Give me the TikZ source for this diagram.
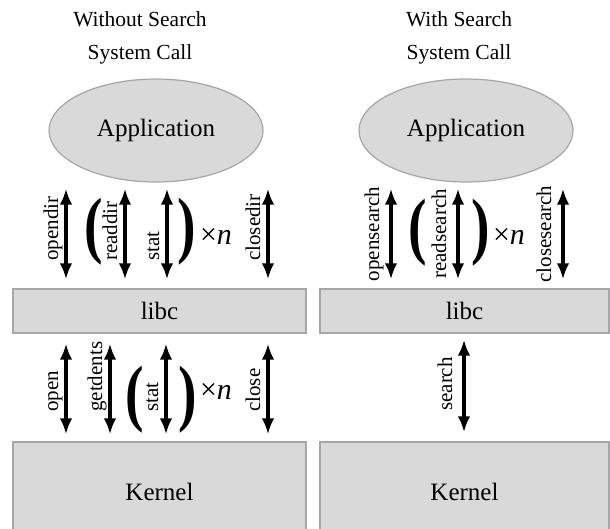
\documentclass[tikz,border=0pt]{standalone}
\usepackage{fontspec}
\setmainfont{Liberation Serif}
\usetikzlibrary{shapes.geometric, arrows.meta}
\definecolor{boxfill}{RGB}{217,217,217}
\definecolor{boxline}{RGB}{166,166,166}

\begin{document}
\begin{tikzpicture}[x=1pt, y=-1pt, >={Latex[length=16pt, width=12.5pt]},
  layer/.style={draw=boxline, fill=boxfill, line width=1.2pt, inner sep=0pt,
    font=\fontsize{25}{25}\selectfont},
  call/.style={<->, line width=3.3pt},
  lbl/.style={rotate=90, inner sep=0pt, font=\fontsize{21}{21}\selectfont},
  paren/.style={inner sep=0pt, xscale=.75, font=\fontsize{74}{74}\selectfont\bfseries},
  times/.style={inner sep=0pt, font=\fontsize{30}{30}\selectfont},
  title/.style={align=center, font=\fontsize{21.5}{33}\selectfont}]
  \useasboundingbox (0,0) rectangle (610,529);
  \node[title] (t1) at (140,38) {Without Search\\System Call};
  \node[title] (t2) at (459,38) {With Search\\System Call};
  % the three layers, twice
  \node[layer, ellipse, minimum width=214, minimum height=103] (app1) at (156,130.5) {Application};
  \node[layer, ellipse, minimum width=214, minimum height=103] (app2) at (466,130.5) {Application};
  \node[layer, minimum width=293, minimum height=44] (libc1) at (159.5,311) {libc};
  \node[layer, minimum width=289, minimum height=44] (libc2) at (464.5,311) {libc};
  \node[layer, minimum width=293, minimum height=100] (kern1) at (159.5,492) {Kernel};
  \node[layer, minimum width=289, minimum height=100] (kern2) at (464.5,492) {Kernel};
  % left: application <-> libc
  \foreach \x/\t in {66/opendir, 125/readdir, 167/stat, 268/closedir} {
    \draw[call, shorten <=6pt, shorten >=9pt] (app1.south -| \x,0) -- (libc1.north -| \x,0);
    \node[lbl, anchor=base west] at (\x-8,261) {\t};
  }
  \node[paren] (lp1) at (94,232) {(};
  \node[paren] (rp1) at (187,232) {)};
  \node[times] (n1) at (216,236) {×\textit{n}};
  % left: libc <-> kernel
  \foreach \x/\t in {66/open, 110/getdents, 166/stat, 268/close} {
    \draw[call, shorten <=10pt, shorten >=7pt] (libc1.south -| \x,0) -- (kern1.north -| \x,0);
    \node[lbl, anchor=base west] at (\x-8,412) {\t};
  }
  \node[paren] (lp2) at (135,400) {(};
  \node[paren] (rp2) at (188,400) {)};
  \node[times] (n2) at (216,391) {×\textit{n}};
  % right: application <-> libc
  \foreach \x/\t in {391/opensearch, 458/readsearch, 563/closesearch} {
    \draw[call, shorten <=6pt, shorten >=9pt] (app2.south -| \x,0) -- (libc2.north -| \x,0);
    \node[lbl, anchor=base] at (\x-12,234) {\t};
  }
  \node[paren] (lp3) at (418,233) {(};
  \node[paren] (rp3) at (481,233) {)};
  \node[times] (n3) at (509,236) {×\textit{n}};
  % right: one call down to the kernel
  \draw[call, shorten <=6pt, shorten >=9pt] (libc2.south -| 464,0) -- (kern2.north -| 464,0);
  \node[lbl, anchor=base] (s) at (452,384) {search};
\end{tikzpicture}
\end{document}
